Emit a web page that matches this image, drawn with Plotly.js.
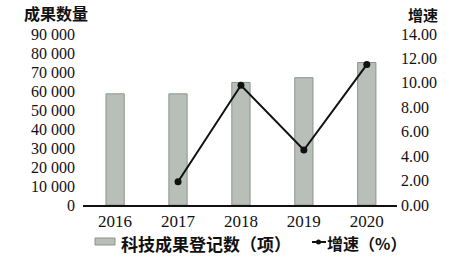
<!DOCTYPE html>
<html>
<head>
<meta charset="utf-8">
<script src="https://cdn.plot.ly/plotly-3.0.1.min.js"></script>
<style>html,body{margin:0;padding:0;background:#fff;}#chart{width:452px;height:259px;}</style>
</head>
<body>
<div id="chart"></div>
<script>
const years = ["2016", "2017", "2018", "2019", "2020"];
const counts = [58500, 58500, 64500, 67000, 75000];
const growthYears = ["2017", "2018", "2019", "2020"];
const growth = [1.9, 9.8, 4.5, 11.5];
const leftTicks = [0, 10000, 20000, 30000, 40000, 50000, 60000, 70000, 80000, 90000];
const leftTickText = ["0", "10 000", "20 000", "30 000", "40 000", "50 000", "60 000", "70 000", "80 000", "90 000"];
const rightTicks = [0, 2, 4, 6, 8, 10, 12, 14];
const rightTickText = ["0.00", "2.00", "4.00", "6.00", "8.00", "10.00", "12.00", "14.00"];
const barName = "科技成果登记数（项）";
const lineName = "增速（%）";

const serif = "Liberation Serif, Times New Roman, serif";
const cjk = "Noto Sans CJK SC, sans-serif";

const W = 452, H = 259, L = 83, R = 55, T = 34, B = 54;
const pw = W - L - R, ph = H - T - B;
const px = v => (v - L) / pw;
const py = v => (H - B - v) / ph;

const barColor = "#b8bfb9", barLine = "#8c938d";

const data = [
  {
    type: "bar", x: years, y: counts, name: barName,
    width: 0.29,
    marker: {color: barColor, line: {color: barLine, width: 1}},
    yaxis: "y"
  },
  {
    type: "scatter", mode: "lines+markers", x: growthYears, y: growth, name: lineName,
    line: {color: "#111", width: 2},
    marker: {color: "#111", size: 7},
    yaxis: "y2"
  }
];

const layout = {
  width: W, height: H,
  margin: {l: L, r: R, t: T, b: B, autoexpand: false},
  paper_bgcolor: "#fff", plot_bgcolor: "#fff",
  showlegend: false,
  xaxis: {
    type: "category", range: [-0.51, 4.48],
    showline: true, linecolor: "#111", linewidth: 2,
    showgrid: false, ticks: "", automargin: false,
    ticklabelstandoff: 0,
    tickfont: {family: serif, size: 17, color: "#111"}
  },
  yaxis: {
    range: [0, 90000], tickvals: leftTicks, ticktext: leftTickText,
    showgrid: false, zeroline: false, showline: false, ticks: "", automargin: false,
    ticklabelstandoff: 7,
    tickfont: {family: serif, size: 16, color: "#111"}
  },
  yaxis2: {
    overlaying: "y", side: "right",
    range: [0, 14], tickvals: rightTicks, ticktext: rightTickText,
    showgrid: false, zeroline: false, showline: false, ticks: "", automargin: false,
    ticklabelstandoff: 3,
    tickfont: {family: serif, size: 16, color: "#111"}
  },
  shapes: [
    {type: "rect", xref: "paper", yref: "paper", x0: px(95), x1: px(115), y0: py(245), y1: py(238),
     fillcolor: barColor, line: {color: barLine, width: 1}},
    {type: "line", xref: "paper", yref: "paper", x0: px(312), x1: px(326), y0: py(242), y1: py(242),
     line: {color: "#111", width: 2}},
    {type: "circle", xref: "paper", yref: "paper", x0: px(316), x1: px(321), y0: py(244.5), y1: py(239.5),
     fillcolor: "#111", line: {color: "#111", width: 0}}
  ],
  annotations: [
    {xref: "paper", yref: "paper", x: px(22), y: py(13), xanchor: "left", yanchor: "middle",
     text: "<b>成果数量</b>", showarrow: false, font: {family: cjk, size: 16, color: "#111"}},
    {xref: "paper", yref: "paper", x: px(406), y: py(15), xanchor: "left", yanchor: "middle",
     text: "<b>增速</b>", showarrow: false, font: {family: cjk, size: 15, color: "#111"}},
    {xref: "paper", yref: "paper", x: px(119), y: py(243), xanchor: "left", yanchor: "middle",
     text: "<b>" + barName + "</b>", showarrow: false, font: {family: cjk, size: 17, color: "#111"}},
    {xref: "paper", yref: "paper", x: px(325), y: py(243), xanchor: "left", yanchor: "middle",
     text: "<b>" + lineName + "</b>", showarrow: false, font: {family: cjk, size: 16, color: "#111"}}
  ]
};

Plotly.newPlot("chart", data, layout, {displayModeBar: false, staticPlot: true});
</script>
</body>
</html>
